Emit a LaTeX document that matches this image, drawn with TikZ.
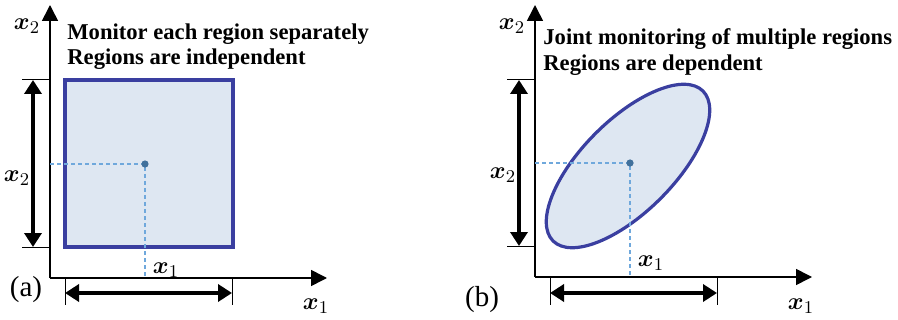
\documentclass[tikz,border=0pt]{standalone}
\usepackage{fontspec}
\setmainfont{Liberation Serif}
\usepackage{bm}
\usetikzlibrary{arrows.meta}
\definecolor{edgeblue}{HTML}{3A3FA0}
\definecolor{fillblue}{HTML}{DEE7F2}
\definecolor{dashblue}{HTML}{6FA8DC}
\definecolor{dotblue}{HTML}{41719C}
\begin{document}
\begin{tikzpicture}[x=0.5pt,y=-0.5pt,
 axis/.style={line width=0.8pt,-{Triangle[length=8pt,width=8pt]}},
 tickline/.style={line width=0.5pt},
 dim/.style={line width=2pt,{Triangle[length=7pt,width=8.5pt]}-{Triangle[length=7pt,width=8.5pt]}},
 guide/.style={dashblue,line width=0.7pt,dash pattern=on 2pt off 1.5pt},
 region/.style={draw=edgeblue,fill=fillblue,line width=1.6pt},
 lbl/.style={font=\fontsize{12.5}{14}\selectfont,inner sep=0pt},
 titletext/.style={font=\bfseries\fontsize{11.3}{13}\selectfont,anchor=base west,inner sep=0pt},
 tag/.style={font=\fontsize{14.5}{16}\selectfont,inner sep=0pt}]
\useasboundingbox (0,0) rectangle (898,320);

% ---------- panel (a) ----------
\coordinate (aO) at (50,278);
\coordinate (aY) at (50,5);
\coordinate (aX) at (327,278);
\draw[axis] (aO) -- (aY);
\draw[axis] (aO) -- (aX);
\draw[region] (65,80) rectangle (233,247);
\coordinate (aC) at (145,164);
\coordinate (aCy) at (50,164);
\coordinate (aCx) at (145,278);
\draw[guide] (aCy) -- (aC) -- (aCx);
\fill[dotblue] (aC) circle (1.8pt);
% vertical dimension
\coordinate (aT1a) at (22,80);  \coordinate (aT1b) at (50,80);
\coordinate (aT2a) at (22,247); \coordinate (aT2b) at (50,247);
\draw[tickline] (aT1a) -- (aT1b);
\draw[tickline] (aT2a) -- (aT2b);
\coordinate (aV1) at (33,80); \coordinate (aV2) at (33,247);
\draw[dim] (aV1) -- (aV2);
% horizontal dimension
\coordinate (aT3a) at (65,278);  \coordinate (aT3b) at (65,305);
\coordinate (aT4a) at (232,278); \coordinate (aT4b) at (232,305);
\draw[tickline] (aT3a) -- (aT3b);
\draw[tickline] (aT4a) -- (aT4b);
\coordinate (aH1) at (65,293); \coordinate (aH2) at (232,293);
\draw[dim] (aH1) -- (aH2);
% labels
\node[lbl] (aLy) at (27,26) {$\bm{x}_2$};
\node[lbl] (aLy2) at (17,178) {$\bm{x}_2$};
\node[lbl] (aLx) at (166,270) {$\bm{x}_1$};
\node[lbl] (aLx2) at (316,306) {$\bm{x}_1$};
\node[tag] (aTag) at (26,290) {(a)};
\node[titletext] (aTitle1) at (67,40) {Monitor each region separately};
\node[titletext] (aTitle2) at (67,65) {Regions are independent};

% ---------- panel (b) ----------
\coordinate (bO) at (535,277);
\coordinate (bY) at (535,5);
\coordinate (bX) at (812,277);
\draw[axis] (bO) -- (bY);
\draw[axis] (bO) -- (bX);
\draw[region,shift={(628,166)},rotate=45] (0,0) ellipse [x radius=106,y radius=46];
\coordinate (bC) at (630,163);
\coordinate (bCy) at (535,163);
\coordinate (bCx) at (630,277);
\draw[guide] (bCy) -- (bC) -- (bCx);
\fill[dotblue] (bC) circle (1.8pt);
% vertical dimension
\coordinate (bT1a) at (507,80);  \coordinate (bT1b) at (535,80);
\coordinate (bT2a) at (507,246); \coordinate (bT2b) at (535,246);
\draw[tickline] (bT1a) -- (bT1b);
\draw[tickline] (bT2a) -- (bT2b);
\coordinate (bV1) at (519,80); \coordinate (bV2) at (519,246);
\draw[dim] (bV1) -- (bV2);
% horizontal dimension
\coordinate (bT3a) at (550,277);  \coordinate (bT3b) at (550,305);
\coordinate (bT4a) at (717,277); \coordinate (bT4b) at (717,305);
\draw[tickline] (bT3a) -- (bT3b);
\draw[tickline] (bT4a) -- (bT4b);
\coordinate (bH1) at (550,293); \coordinate (bH2) at (717,293);
\draw[dim] (bH1) -- (bH2);
% labels
\node[lbl] (bLy) at (512,26) {$\bm{x}_2$};
\node[lbl] (bLy2) at (503,175) {$\bm{x}_2$};
\node[lbl] (bLx) at (651,263) {$\bm{x}_1$};
\node[lbl] (bLx2) at (801,306) {$\bm{x}_1$};
\node[tag] (bTag) at (482,300) {(b)};
\node[titletext] (bTitle1) at (543,45) {Joint monitoring of multiple regions};
\node[titletext] (bTitle2) at (543,71) {Regions are dependent};
\end{tikzpicture}
\end{document}
